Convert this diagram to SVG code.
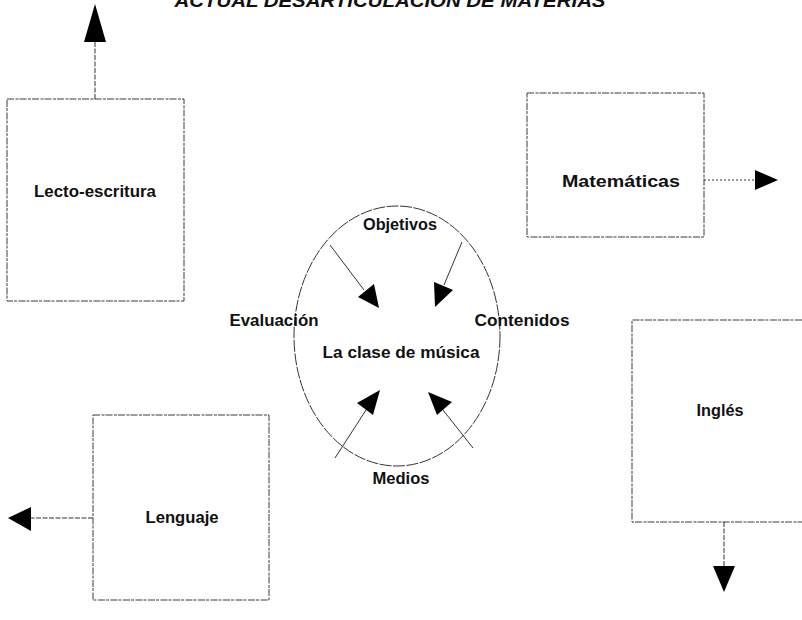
<svg xmlns="http://www.w3.org/2000/svg" width="802" height="620" viewBox="0 0 802 620">
<style>
.box{fill:none;stroke:#3a3a3a;stroke-width:1;stroke-dasharray:7 1.5 3 1}
.lbl{font-family:"Liberation Sans",Arial,sans-serif;font-weight:bold;font-size:17px;fill:#111;text-anchor:middle}
.ln{fill:none;stroke:#333;stroke-width:1}
.dash{stroke-dasharray:5 1.5}
.dot{stroke-dasharray:2 2}
.head{fill:#000}
</style>
<rect width="802" height="620" fill="#fff"/>
<text x="390" y="7" style="font-family:'Liberation Sans',Arial,sans-serif;font-weight:bold;font-style:italic;font-size:18px;fill:#111;text-anchor:middle" textLength="431" lengthAdjust="spacingAndGlyphs">ACTUAL DESARTICULACION DE MATERIAS</text>

<g id="lecto">
<rect class="box" x="7" y="99" width="177" height="202"/>
<text class="lbl" x="95" y="197" textLength="122" lengthAdjust="spacingAndGlyphs">Lecto-escritura</text>
</g>
<g id="matematicas">
<rect class="box" x="527" y="93" width="177" height="144"/>
<text class="lbl" x="621" y="187" textLength="118" lengthAdjust="spacingAndGlyphs">Matemáticas</text>
</g>
<g id="ingles">
<path class="box" d="M802 320 H632 V522 H802"/>
<text class="lbl" x="720" y="416" textLength="47" lengthAdjust="spacingAndGlyphs">Inglés</text>
</g>
<g id="lenguaje">
<rect class="box" x="93" y="415" width="176" height="185"/>
<text class="lbl" x="182" y="523" textLength="73" lengthAdjust="spacingAndGlyphs">Lenguaje</text>
</g>
<g id="clase">
<ellipse cx="397" cy="336" rx="103" ry="130" fill="none" stroke="#333" stroke-width="1" stroke-dasharray="12 1.5"/>
<text class="lbl" x="401" y="358" textLength="157" lengthAdjust="spacingAndGlyphs">La clase de música</text>
</g>
<g id="labels">
<text class="lbl" x="400" y="230" textLength="74" lengthAdjust="spacingAndGlyphs">Objetivos</text>
<text class="lbl" x="274" y="326" textLength="89" lengthAdjust="spacingAndGlyphs">Evaluación</text>
<text class="lbl" x="522" y="326" textLength="95" lengthAdjust="spacingAndGlyphs">Contenidos</text>
<text class="lbl" x="401" y="484" textLength="57" lengthAdjust="spacingAndGlyphs">Medios</text>
</g>

<g id="connectors">
<line class="ln dash" x1="95" y1="99" x2="95" y2="42"/>
<polygon class="head" points="95,4 84,42 106,42"/>
<line class="ln dot" x1="704" y1="180" x2="756" y2="180"/>
<polygon class="head" points="778,180 755,170 755,190"/>
<line class="ln dash" x1="724" y1="522" x2="724" y2="567"/>
<polygon class="head" points="724,592 713,566 735,566"/>
<line class="ln dash" x1="93" y1="518" x2="30" y2="518"/>
<polygon class="head" points="8,518 31,507 31,531"/>
<line class="ln" x1="330" y1="245" x2="364" y2="290"/>
<polygon class="head" points="379,308 358,297 374,284"/>
<line class="ln" x1="462" y1="242" x2="444" y2="285"/>
<polygon class="head" points="435,307 434,282 453,290"/>
<line class="ln" x1="335" y1="458" x2="366" y2="410"/>
<polygon class="head" points="380,390 373,415 357,403"/>
<line class="ln" x1="473" y1="448" x2="443" y2="410"/>
<polygon class="head" points="428,392 452,402 437,415"/>
</g>
</svg>
